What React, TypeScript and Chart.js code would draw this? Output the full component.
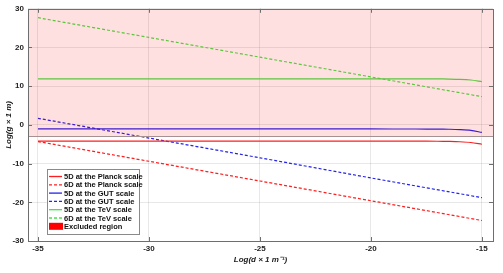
import React, { useEffect, useRef } from "react";
import { Chart, registerables } from "chart.js";

Chart.register(...registerables);

// Solid (5D) curves
const X_SOLID = [-35, -30, -25, -20, -18, -17, -16.5, -16, -15.5, -15];
const GREEN_5D = [11.9, 11.9, 11.9, 11.9, 11.9, 11.88, 11.85, 11.78, 11.6, 11.2];
const BLUE_5D = [-1.05, -1.05, -1.05, -1.05, -1.06, -1.08, -1.12, -1.2, -1.4, -1.95];
const RED_5D = [-4.2, -4.2, -4.2, -4.2, -4.21, -4.23, -4.27, -4.35, -4.55, -5.0];

// Dashed (6D) curves
const X_DASHED = [-35, -30, -25, -20, -15];
const GREEN_6D = [27.7, 22.6, 17.5, 12.4, 7.3];
const BLUE_6D = [1.7, -3.4, -8.5, -13.7, -18.8];
const RED_6D = [-4.3, -9.4, -14.5, -19.6, -24.7];

// Excluded region boundary
const EXCLUDED_LIMIT = -3;

const X_TICKS = [-35, -30, -25, -20, -15];
const Y_TICKS = [-30, -20, -10, 0, 10, 20, 30];
const X_MIN = -35.45;
const X_MAX = -14.5;
const Y_MIN = -30;
const Y_MAX = 30;

const LEGEND_LABELS = [
  "5D at the Planck scale",
  "6D at the Planck scale",
  "5D at the GUT scale",
  "6D at the GUT scale",
  "5D at the TeV scale",
  "6D at the TeV scale",
  "Excluded region",
];

const RED = "rgb(255,30,30)";
const BLUE = "rgb(35,35,235)";
const GREEN = "rgb(70,225,70)";
const FONT = "'Liberation Sans', Arial, sans-serif";

const pts = (xs: number[], ys: number[]) => xs.map((x, i) => ({ x, y: ys[i] }));

const framePlugin = {
  id: "frame",
  afterDatasetsDraw(chart: any) {
    const { ctx, chartArea: a, scales } = chart;
    ctx.save();
    ctx.strokeStyle = "#6e6e6e";
    ctx.lineWidth = 1;
    // tick marks inside
    ctx.beginPath();
    for (const v of X_TICKS) {
      const px = Math.round(scales.x.getPixelForValue(v)) + 0.5;
      ctx.moveTo(px, a.bottom);
      ctx.lineTo(px, a.bottom - 4);
      ctx.moveTo(px, a.top);
      ctx.lineTo(px, a.top + 4);
    }
    for (const v of Y_TICKS) {
      const py = Math.round(scales.y.getPixelForValue(v)) + 0.5;
      ctx.moveTo(a.left, py);
      ctx.lineTo(a.left + 4, py);
      ctx.moveTo(a.right, py);
      ctx.lineTo(a.right - 4, py);
    }
    ctx.stroke();
    ctx.strokeRect(Math.round(a.left) + 0.5, Math.round(a.top) + 0.5, Math.round(a.right - a.left), Math.round(a.bottom - a.top));

    // legend
    const lx = 47, ly = 169, lw = 92, lh = 65;
    ctx.fillStyle = "#ffffff";
    ctx.fillRect(lx, ly, lw, lh);
    ctx.strokeStyle = "#8a8a8a";
    ctx.strokeRect(lx + 0.5, ly + 0.5, lw, lh);
    const styles = [
      { c: RED, d: [] },
      { c: RED, d: [3, 2] },
      { c: BLUE, d: [] },
      { c: BLUE, d: [3, 2] },
      { c: GREEN, d: [] },
      { c: GREEN, d: [3, 2] },
    ];
    ctx.font = `bold 7.5px ${FONT}`;
    ctx.textBaseline = "middle";
    ctx.textAlign = "left";
    LEGEND_LABELS.forEach((lab, i) => {
      const y = ly + 7.5 + i * 8.3;
      if (i < 6) {
        ctx.strokeStyle = styles[i].c;
        ctx.lineWidth = 1.3;
        ctx.setLineDash(styles[i].d);
        ctx.beginPath();
        ctx.moveTo(49, y);
        ctx.lineTo(62, y);
        ctx.stroke();
        ctx.setLineDash([]);
      } else {
        ctx.fillStyle = "rgb(255,0,0)";
        ctx.fillRect(49, y - 3.5, 14, 7);
      }
      ctx.fillStyle = "#111";
      ctx.fillText(lab, 64, y + 0.5);
    });
    ctx.restore();
  },
};

export default function App() {
  const ref = useRef<HTMLCanvasElement>(null);
  useEffect(() => {
    document.body.style.margin = "0";
    const line = (data: any[], color: string, dash: number[]) => ({
      data,
      borderColor: color,
      backgroundColor: color,
      borderWidth: 1.2,
      borderDash: dash,
      pointRadius: 0,
      fill: false,
      tension: 0.3,
    });
    const chart = new Chart(ref.current!, {
      type: "line",
      data: {
        datasets: [
          {
            data: [
              { x: X_MIN, y: EXCLUDED_LIMIT },
              { x: X_MAX, y: EXCLUDED_LIMIT },
            ],
            borderColor: "rgb(165,145,145)",
            borderWidth: 1.2,
            backgroundColor: "rgba(255,0,0,0.12)",
            fill: "end",
            pointRadius: 0,
          },
          line(pts(X_SOLID, RED_5D), RED, []),
          line(pts(X_DASHED, RED_6D), RED, [3, 2]),
          line(pts(X_SOLID, BLUE_5D), BLUE, []),
          line(pts(X_DASHED, BLUE_6D), BLUE, [3, 2]),
          line(pts(X_SOLID, GREEN_5D), GREEN, []),
          line(pts(X_DASHED, GREEN_6D), GREEN, [3, 2]),
        ] as any,
      },
      options: {
        animation: false,
        responsive: false,
        maintainAspectRatio: false,
        layout: { padding: { top: 8, right: 10, left: 0, bottom: 0 } },
        plugins: { legend: { display: false }, tooltip: { enabled: false } },
        scales: {
          x: {
            type: "linear",
            min: X_MIN,
            max: X_MAX,
            afterBuildTicks: (s: any) => {
              s.ticks = X_TICKS.map((v) => ({ value: v }));
            },
            afterFit: (s: any) => {
              s.height = 32;
            },
            grid: { color: "rgba(0,0,0,0.09)", drawTicks: false },
            border: { display: false },
            ticks: { font: { family: FONT, size: 8, weight: "bold" }, color: "#222", padding: 3, maxRotation: 0 },
            title: {
              display: true,
              text: "Log(d × 1 m⁻¹)",
              font: { family: FONT, size: 8, weight: "bold", style: "italic" },
              color: "#222",
              padding: { top: 2, bottom: 8 },
            },
          },
          y: {
            type: "linear",
            min: Y_MIN,
            max: Y_MAX,
            afterBuildTicks: (s: any) => {
              s.ticks = Y_TICKS.map((v) => ({ value: v }));
            },
            afterFit: (s: any) => {
              s.width = 28;
            },
            grid: { color: "rgba(0,0,0,0.09)", drawTicks: false },
            border: { display: false },
            ticks: { font: { family: FONT, size: 8, weight: "bold" }, color: "#222", padding: 4 },
            title: {
              display: true,
              text: "Log(g × 1 m)",
              font: { family: FONT, size: 8, weight: "bold", style: "italic" },
              color: "#222",
              padding: { top: 4, bottom: 2 },
            },
          },
        },
      } as any,
      plugins: [framePlugin],
    });
    return () => chart.destroy();
  }, []);
  return (
    <div style={{ width: 503, height: 273 }}>
      <canvas ref={ref} width={503} height={273} style={{ display: "block" }} />
    </div>
  );
}
